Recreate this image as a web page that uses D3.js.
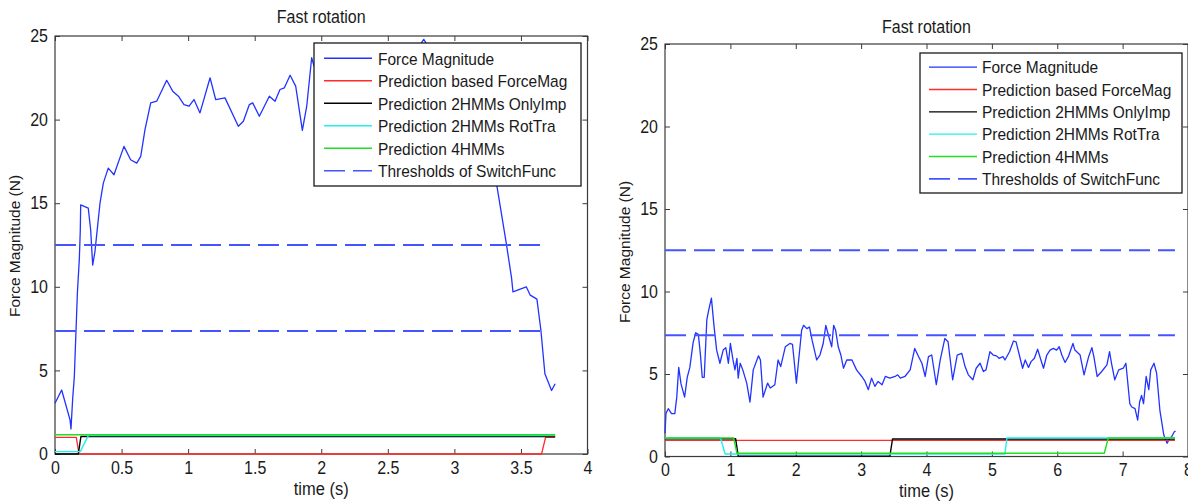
<!DOCTYPE html>
<html>
<head>
<meta charset="utf-8">
<script src="https://cdn.jsdelivr.net/npm/d3@7"></script>
<style>
  body { margin: 0; background: #fff; }
  svg { display: block; }
  text { font-family: Arial, "Liberation Sans", Helvetica, sans-serif; fill: #1a1a1a; }
  /* slightly tall glyphs, as in the original figure export */
  .tall, .tick text { transform-box: fill-box; transform-origin: center; transform: scaleY(1.12); }
</style>
</head>
<body>
<svg id="chart" width="1188" height="504"></svg>
<script>
// ---- data ----------------------------------------------------------------
const seriesNames = ["Force Magnitude", "Prediction based ForceMag", "Prediction 2HMMs OnlyImp",
                     "Prediction 2HMMs RotTra", "Prediction 4HMMs", "Thresholds of SwitchFunc"];
const thresholds = [12.5, 7.35];
const yTicks = [0, 5, 10, 15, 20, 25];
const leftXTicks = [0, 0.5, 1, 1.5, 2, 2.5, 3, 3.5, 4];
const rightXTicks = [0, 1, 2, 3, 4, 5, 6, 7, 8];

// first trial: [time (s), force (N)]
const leftForce = [
  [0,3.04],[0.05,3.83],[0.113,2.04],[0.12,1.5],[0.133,3.33],[0.145,4.6],[0.168,9.6],[0.183,11.7],
  [0.19,13.4],[0.193,14.9],[0.25,14.7],[0.268,13.4],[0.283,11.3],[0.30,12.1],[0.338,15.0],[0.363,16.2],
  [0.40,17.1],[0.443,16.7],[0.518,18.4],[0.568,17.6],[0.614,17.4],[0.644,17.8],[0.676,19.4],[0.719,21.0],
  [0.764,21.1],[0.839,22.35],[0.884,21.7],[0.927,21.4],[0.969,20.9],[1.007,20.8],[1.044,21.2],[1.089,20.4],
  [1.165,22.5],[1.207,21.2],[1.277,21.3],[1.377,19.6],[1.415,19.9],[1.46,20.9],[1.485,21.0],[1.535,20.2],
  [1.61,21.4],[1.653,21.1],[1.69,21.8],[1.723,21.9],[1.766,22.65],[1.808,22.0],[1.858,19.35],[1.891,20.8],
  [1.928,23.7],[1.946,23.2],[2.0,22.6],[2.08,23.5],[2.16,22.8],[2.25,23.7],[2.33,23.0],[2.42,23.9],
  [2.5,23.3],[2.58,24.1],[2.66,23.6],[2.72,24.2],[2.77,24.8],[2.84,23.9],[2.92,23.1],[3.0,22.2],
  [3.08,21.0],[3.16,19.6],[3.24,17.9],[3.32,16.0],[3.39,12.6],[3.43,10.5],[3.44,9.7],[3.54,10.0],
  [3.57,9.5],[3.62,9.26],[3.65,7.4],[3.68,4.8],[3.73,3.8],[3.757,4.2]
];
const leftRed   = [[0,1.0],[0.16,1.0],[0.18,0],[3.655,0],[3.685,1.0],[3.757,1.0]];
const leftBlack = [[0,0],[0.175,0],[0.195,1.05],[3.757,1.05]];
const leftCyan  = [[0,0.14],[0.19,0.14],[0.25,1.1],[3.757,1.1]];
const leftGreen = [[0,1.15],[3.757,1.15]];

// second trial: [time (s), force (N)]
const rightForce = [
  [0,1.4],[0.01,2.2],[0.015,2.6],[0.05,2.9],[0.1,2.6],[0.15,2.6],[0.18,3.6],[0.21,5.4],[0.245,4.4],
  [0.3,3.6],[0.34,4.8],[0.38,5.4],[0.43,6.9],[0.47,7.5],[0.51,7.4],[0.54,6.25],[0.57,4.8],[0.6,4.8],
  [0.64,8.3],[0.67,8.9],[0.71,9.6],[0.75,7.9],[0.79,6.45],[0.84,5.65],[0.89,6.45],[0.93,6.6],[0.97,5.65],
  [1.0,6.85],[1.04,5.85],[1.07,5.25],[1.1,5.95],[1.12,4.75],[1.15,5.65],[1.19,5.25],[1.25,4.45],[1.3,3.3],
  [1.35,5.25],[1.43,6.1],[1.46,5.85],[1.5,3.6],[1.57,4.45],[1.61,4.15],[1.68,4.35],[1.73,5.85],[1.77,5.45],
  [1.84,6.65],[1.91,6.85],[1.95,6.8],[2.01,4.45],[2.09,7.65],[2.12,7.95],[2.17,7.75],[2.21,7.85],[2.25,7.05],
  [2.32,5.85],[2.37,6.15],[2.42,6.85],[2.46,7.95],[2.5,7.35],[2.55,6.65],[2.58,7.95],[2.61,7.65],[2.65,6.65],
  [2.69,6.15],[2.73,5.35],[2.78,5.85],[2.86,5.85],[2.93,5.25],[3.01,4.85],[3.06,4.55],[3.11,4.05],[3.16,4.75],
  [3.21,4.25],[3.26,4.55],[3.32,4.35],[3.37,4.85],[3.44,4.75],[3.52,4.85],[3.56,4.95],[3.6,4.75],[3.67,4.85],
  [3.75,5.25],[3.82,6.55],[3.88,6.05],[3.93,5.65],[3.98,4.85],[4.03,6.05],[4.08,6.15],[4.15,4.35],[4.21,5.85],
  [4.28,7.15],[4.33,6.95],[4.4,4.65],[4.47,6.15],[4.54,6.25],[4.59,5.45],[4.64,4.95],[4.71,4.65],[4.76,5.35],
  [4.82,5.65],[4.87,5.15],[4.91,5.25],[4.97,6.35],[5.02,6.15],[5.07,6.1],[5.11,5.95],[5.17,6.05],[5.2,5.85],
  [5.27,6.35],[5.33,7.0],[5.37,6.95],[5.42,6.15],[5.47,5.35],[5.51,5.85],[5.56,5.4],[5.6,5.75],[5.65,5.95],
  [5.7,6.5],[5.75,5.85],[5.79,5.35],[5.84,6.15],[5.89,6.45],[5.94,6.55],[5.99,6.45],[6.03,6.65],[6.07,6.15],
  [6.12,5.7],[6.17,6.05],[6.24,6.85],[6.27,6.45],[6.35,6.15],[6.41,4.95],[6.48,6.05],[6.53,6.6],[6.56,6.05],
  [6.61,4.85],[6.68,5.15],[6.76,5.55],[6.8,6.35],[6.83,5.65],[6.88,4.65],[6.94,5.25],[7.01,5.35],[7.05,5.65],
  [7.11,3.2],[7.14,3.0],[7.19,2.9],[7.23,2.2],[7.26,3.3],[7.29,3.7],[7.32,3.2],[7.36,4.85],[7.4,4.05],
  [7.43,5.25],[7.48,5.65],[7.52,5.05],[7.57,2.8],[7.63,1.3],[7.68,0.8],[7.72,1.1],[7.75,1.2],[7.79,1.5],[7.81,1.55]
];
const rightRed   = [[0,0.98],[7.8,0.98]];
const rightBlack = [[0,1.08],[1.08,1.08],[1.12,0.02],[3.44,0.02],[3.48,1.06],[7.8,1.06]];
const rightCyan  = [[0,1.12],[0.85,1.12],[0.92,0.15],[5.2,0.15],[5.23,1.12],[7.8,1.12]];
const rightGreen = [[0,1.12],[1.05,1.12],[1.1,0.2],[6.72,0.2],[6.78,1.12],[7.8,1.12]];

// ---- styles --------------------------------------------------------------
const colors = ["#2233ff", "#ff2a2a", "#000000", "#22eeee", "#22dd22", "#4455ff"];
const widths = [1.3, 1.3, 1.4, 1.4, 1.4, 2];
const dash = "21,8";

const svg = d3.select("#chart");

function drawPanel(cfg) {
  const x = d3.scaleLinear().domain([0, cfg.xMax]).range([cfg.left, cfg.right]);
  const y = d3.scaleLinear().domain([0, 25]).range([cfg.bottom, cfg.top]);
  const g = svg.append("g");

  // frame and inward ticks on all four sides
  const fmt = d3.format("~g");
  const axisStyle = sel => {
    sel.select(".domain").remove();
    sel.selectAll(".tick line").attr("stroke", "#3a3a3a");
    sel.selectAll(".tick text").attr("font-size", 16).attr("fill", "#1a1a1a")
       .attr("font-family", "Arial, 'Liberation Sans', sans-serif");
  };
  g.append("g").attr("transform", `translate(0,${cfg.bottom})`)
    .call(d3.axisBottom(x).tickValues(cfg.xTicks).tickFormat(fmt).tickSizeInner(-5).tickSizeOuter(0).tickPadding(8))
    .call(axisStyle);
  g.append("g").attr("transform", `translate(0,${cfg.top})`)
    .call(d3.axisTop(x).tickValues(cfg.xTicks).tickFormat("").tickSizeInner(-5).tickSizeOuter(0))
    .call(axisStyle);
  g.append("g").attr("transform", `translate(${cfg.left},0)`)
    .call(d3.axisLeft(y).tickValues(yTicks).tickFormat(fmt).tickSizeInner(-5).tickSizeOuter(0).tickPadding(7))
    .call(axisStyle);
  g.append("g").attr("transform", `translate(${cfg.right},0)`)
    .call(d3.axisRight(y).tickValues(yTicks).tickFormat("").tickSizeInner(-5).tickSizeOuter(0))
    .call(axisStyle);
  g.append("rect")
    .attr("x", cfg.left).attr("y", cfg.top)
    .attr("width", cfg.right - cfg.left).attr("height", cfg.bottom - cfg.top)
    .attr("fill", "none").attr("stroke", "#3a3a3a").attr("stroke-width", 1.2);

  // data lines
  const line = d3.line().x(d => x(d[0])).y(d => y(d[1]));
  cfg.series.forEach((data, i) => {
    g.append("path").datum(data).attr("d", line)
      .attr("fill", "none").attr("stroke", colors[i]).attr("stroke-width", widths[i])
      .attr("stroke-linejoin", "round");
  });
  thresholds.forEach(v => {
    g.append("path").datum([[0, v], [cfg.thrEnd, v]]).attr("d", line)
      .attr("fill", "none").attr("stroke", colors[5]).attr("stroke-width", widths[5])
      .attr("stroke-dasharray", dash);
  });

  // labels
  const cx = (cfg.left + cfg.right) / 2;
  g.append("text").attr("class", "tall").attr("x", cx).attr("y", cfg.titleY).attr("text-anchor", "middle")
    .attr("dominant-baseline", "central").attr("font-size", 16).text("Fast rotation");
  g.append("text").attr("class", "tall").attr("x", cx).attr("y", cfg.xLabelY).attr("text-anchor", "middle")
    .attr("dominant-baseline", "central").attr("font-size", 16.5).text("time (s)");
  g.append("text").attr("transform", `translate(${cfg.yLabelX},${cfg.yLabelY}) rotate(-90)`)
    .attr("text-anchor", "middle").attr("dominant-baseline", "central")
    .attr("font-size", 15.5).text("Force Magnitude (N)");

  // legend
  const L = cfg.legend;
  const lg = g.append("g");
  lg.append("rect").attr("x", L.x0).attr("y", L.y0).attr("width", L.x1 - L.x0).attr("height", L.y1 - L.y0)
    .attr("fill", "#fff").attr("stroke", "#1a1a1a").attr("stroke-width", 1.3);
  const rowH = (L.y1 - L.y0 - 2 * L.pad) / seriesNames.length;
  seriesNames.forEach((name, i) => {
    const ry = L.y0 + L.pad + rowH * (i + 0.5);
    lg.append("line").attr("x1", L.sx0).attr("x2", L.sx1).attr("y1", ry).attr("y2", ry)
      .attr("stroke", colors[i]).attr("stroke-width", i === 5 ? 1.6 : 1.4)
      .attr("stroke-dasharray", i === 5 ? dash : null);
    lg.append("text").attr("class", "tall").attr("x", L.tx).attr("y", ry).attr("dominant-baseline", "central")
      .attr("font-size", 15.5).text(name);
  });
}

drawPanel({
  left: 55, right: 587.5, top: 36, bottom: 454, xMax: 4, xTicks: leftXTicks, thrEnd: 3.7,
  series: [leftForce, leftRed, leftBlack, leftCyan, leftGreen],
  titleY: 17, xLabelY: 489, yLabelX: 14, yLabelY: 246,
  legend: { x0: 314, x1: 581, y0: 43, y1: 186, pad: 4, sx0: 324, sx1: 372, tx: 378 }
});
drawPanel({
  left: 665, right: 1188, top: 44, bottom: 456.5, xMax: 8, xTicks: rightXTicks, thrEnd: 7.8,
  series: [rightForce, rightRed, rightBlack, rightCyan, rightGreen],
  titleY: 27, xLabelY: 491, yLabelX: 624, yLabelY: 252,
  legend: { x0: 920, x1: 1182, y0: 53, y1: 193, pad: 3, sx0: 929, sx1: 977, tx: 982 }
});
</script>
</body>
</html>
